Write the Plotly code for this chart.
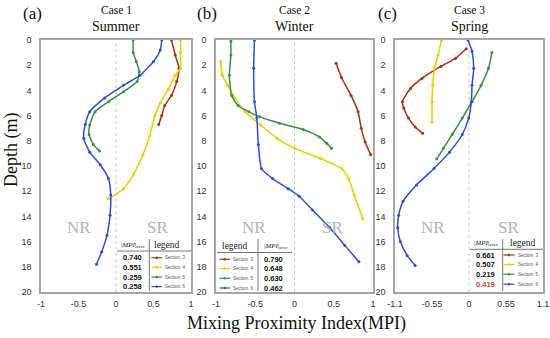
import plotly.graph_objects as go

# ---------------- data ----------------
sections = ["Section. 3", "Section. 4", "Section. 5", "Section. 6"]
colors = ["#A0350F", "#E3D000", "#3A9040", "#2E4FD0"]

# Case 1 Summer
a3_depth = [0, 1.2, 2.25, 3.3, 4.4, 5.2, 6.0, 6.7]
a3_mpi = [0.74, 0.79, 0.84, 0.81, 0.74, 0.65, 0.61, 0.57]
a4_depth = [0, 1.0, 2.25, 2.8, 3.9, 5.0, 6.0, 7.6, 9.1, 10.7, 11.8, 12.6]
a4_mpi = [0.86, 0.86, 0.86, 0.79, 0.70, 0.59, 0.52, 0.45, 0.36, 0.23, 0.10, -0.10]
a5_depth = [0, 1.0, 1.7, 2.5, 3.3, 4.1, 4.9, 5.7, 6.75, 7.5, 8.3, 8.8]
a5_mpi = [0.23, 0.23, 0.27, 0.31, 0.28, 0.10, -0.10, -0.28, -0.35, -0.36, -0.30, -0.22]
a6_depth = [0, 0.8, 1.7, 2.8, 3.6, 4.6, 5.7, 6.7, 7.8, 8.9, 9.9, 11.0, 12.3, 13.9, 15.5, 16.8, 17.8]
a6_mpi = [0.61, 0.59, 0.50, 0.32, 0.10, -0.15, -0.35, -0.41, -0.43, -0.35, -0.21, -0.10, -0.07, -0.08, -0.12, -0.19, -0.26]

# Case 2 Winter
b3_depth = [1.85, 3.0, 4.4, 5.7, 7.0, 8.1, 9.1]
b3_mpi = [0.53, 0.60, 0.72, 0.81, 0.85, 0.90, 0.97]
b4_depth = [1.7, 2.8, 3.6, 4.6, 5.7, 6.75, 7.8, 8.6, 9.4, 10.2, 11.0, 12.3, 14.2]
b4_mpi = [-0.94, -0.92, -0.85, -0.76, -0.63, -0.43, -0.22, 0.0, 0.33, 0.60, 0.69, 0.76, 0.87]
b5_depth = [0.1, 1.2, 2.8, 4.4, 5.2, 5.7, 6.1, 6.6, 7.1, 7.7, 8.2, 8.6]
b5_mpi = [-0.81, -0.81, -0.83, -0.80, -0.72, -0.58, -0.44, -0.19, 0.11, 0.32, 0.41, 0.47]
b6_depth = [0, 2.25, 4.9, 6.2, 8.3, 10.2, 11.0, 11.8, 12.4, 13.5, 14.9, 16.3, 17.6]
b6_mpi = [-0.51, -0.52, -0.51, -0.48, -0.46, -0.42, -0.28, -0.08, 0.06, 0.23, 0.45, 0.64, 0.82]

# Case 3 Spring
c3_depth = [0.7, 1.45, 2.1, 3.05, 3.85, 4.9, 5.4, 6.2, 6.9, 7.4]
c3_mpi = [-0.04, -0.20, -0.42, -0.70, -0.87, -0.99, -0.97, -0.90, -0.80, -0.69]
c4_depth = [0, 1.2, 2.25, 3.6, 4.9, 6.5]
c4_mpi = [-0.41, -0.46, -0.51, -0.54, -0.55, -0.55]
c5_depth = [1.0, 2.25, 3.6, 4.9, 6.2, 7.5, 8.6, 9.45]
c5_mpi = [0.34, 0.29, 0.18, 0.045, -0.10, -0.25, -0.38, -0.48]
c6_depth = [0, 0.9, 2.25, 3.6, 4.9, 6.2, 7.5, 8.9, 10.2, 11.5, 12.8, 13.9, 14.9, 16.0, 17.1, 17.9]
c6_mpi = [-0.015, 0.045, 0.07, 0.045, 0.035, -0.005, -0.10, -0.29, -0.52, -0.78, -0.98, -1.045, -1.06, -1.02, -0.92, -0.80]

mpi_aver_a = ["0.740", "0.551", "0.259", "0.258"]
mpi_aver_b = ["0.790", "0.648", "0.630", "0.462"]
mpi_aver_c = ["0.661", "0.507", "0.219", "0.419"]

panel_labels = ["(a)", "(b)", "(c)"]
case_names = ["Case 1", "Case 2", "Case 3"]
season_names = ["Summer", "Winter", "Spring"]

xtick_vals_ab = [-1, -0.5, 0, 0.5, 1]
xtick_text_ab = ["-1", "-0.5", "0", "0.5", "1"]
xtick_vals_c = [-1.1, -0.55, 0, 0.55, 1.1]
xtick_text_c = ["-1.1", "-0.55", "0", "0.55", "1.1"]
ytick_vals = [0, 2, 4, 6, 8, 10, 12, 14, 16, 18, 20]

# ---------------- layout helpers ----------------
W, H = 550, 338
SERIF = "Liberation Serif, Times New Roman, serif"
SANS = "Liberation Sans, Arial, sans-serif"


def fx(p):
    return p / W


def fy(p):
    return 1 - p / H


def note(text, x, y, size, family=SERIF, color="#111", xanchor="center", **kw):
    return dict(text=text, x=fx(x), y=fy(y), xref="paper", yref="paper", showarrow=False,
                xanchor=xanchor, yanchor="middle", font=dict(family=family, size=size, color=color), **kw)


panels = [
    dict(dom=(41, 191), rng=[-1, 1], tv=xtick_vals_ab, tt=xtick_text_ab,
         series=[(a3_mpi, a3_depth), (a4_mpi, a4_depth), (a5_mpi, a5_depth), (a6_mpi, a6_depth)],
         nr=-0.5, sr=0.55, aver=mpi_aver_a),
    dict(dom=(216, 373), rng=[-1, 1], tv=xtick_vals_ab, tt=xtick_text_ab,
         series=[(b3_mpi, b3_depth), (b4_mpi, b4_depth), (b5_mpi, b5_depth), (b6_mpi, b6_depth)],
         nr=-0.52, sr=0.48, aver=mpi_aver_b),
    dict(dom=(395, 543), rng=[-1.1, 1.1], tv=xtick_vals_c, tt=xtick_text_c,
         series=[(c3_mpi, c3_depth), (c4_mpi, c4_depth), (c5_mpi, c5_depth), (c6_mpi, c6_depth)],
         nr=-0.53, sr=0.58, aver=mpi_aver_c),
]

Y_TOP, Y_BOT = 40, 292

fig = go.Figure()
shapes = []
annotations = []

for i, p in enumerate(panels):
    sfx = "" if i == 0 else str(i + 1)
    xa, ya = "x" + sfx, "y" + sfx
    for k, (xs, ys) in enumerate(p["series"]):
        fig.add_trace(go.Scatter(
            x=xs, y=ys, xaxis=xa, yaxis=ya, mode="lines+markers",
            line=dict(color=colors[k], width=1.5, shape="spline", smoothing=0.6),
            marker=dict(color=colors[k], size=3),
            name=sections[k], showlegend=False, hoverinfo="skip"))
    axis_common = dict(showgrid=False, zeroline=False, showline=True, mirror=True,
                       linecolor="#A6A6A6", linewidth=1.5, ticks="", automargin=False,
                       tickfont=dict(family=SANS, size=9, color="#333333"))
    fig.layout["xaxis" + sfx] = dict(
        domain=[fx(p["dom"][0]), fx(p["dom"][1])], range=p["rng"], anchor=ya,
        tickmode="array", tickvals=p["tv"], ticktext=p["tt"], ticklabelstandoff=2,
        **axis_common)
    fig.layout["yaxis" + sfx] = dict(
        domain=[fy(Y_BOT), fy(Y_TOP)], range=[20, 0], anchor=xa,
        tickmode="array", tickvals=ytick_vals, ticklabelstandoff=6, **axis_common)
    # dotted zero line
    shapes.append(dict(type="line", xref=xa, yref=ya + " domain", x0=0, x1=0, y0=0, y1=1,
                       line=dict(color="#C8C8C8", width=1, dash="dot"), layer="below"))
    # NR / SR labels
    for txt, xv in (("NR", p["nr"]), ("SR", p["sr"])):
        annotations.append(dict(text=txt, x=xv, y=14.9, xref=xa, yref=ya, showarrow=False,
                                xanchor="center", yanchor="middle",
                                font=dict(family=SERIF, size=17, color="#B4B4B4")))
    # titles
    cx = (p["dom"][0] + p["dom"][1]) / 2
    annotations.append(note(case_names[i], cx, 10, 11.5))
    annotations.append(note(season_names[i], cx, 26.5, 14))

# panel letters
for lbl, xc in zip(panel_labels, [32, 207, 387]):
    annotations.append(note(lbl, xc, 13.5, 17))

# axis titles
annotations.append(note("Depth (m)", 11, 150, 18, textangle=-90))
annotations.append(note("Mixing Proximity Index(MPI)", 296, 323, 18))

# legend / value tables (pixel geometry)
tables = [
    dict(left=117, right=191, div=149.3, head=245, hline=251, rows=[257.7, 267.2, 277.0, 286.6],
         valc=132, mpih=132.5, legh=166.5, l0=151.5, l1=162, t0=163),
    dict(left=217, right=292, div=258, head=246, hline=252.5, rows=[259.3, 268.5, 278.3, 288.0],
         valc=273, mpih=276, legh=235, l0=219.5, l1=230, t0=231),
    dict(left=470, right=543, div=502.7, head=243.3, hline=249.3, rows=[255, 264.5, 274.3, 284.2],
         valc=485, mpih=486, legh=522.5, l0=503.5, l1=514.5, t0=515.5),
]
for i, t in enumerate(tables):
    aver = panels[i]["aver"]
    shapes.append(dict(type="line", xref="paper", yref="paper", x0=fx(t["left"]), x1=fx(t["right"]),
                       y0=fy(t["hline"]), y1=fy(t["hline"]), line=dict(color="#555", width=0.8)))
    shapes.append(dict(type="line", xref="paper", yref="paper", x0=fx(t["div"]), x1=fx(t["div"]),
                       y0=fy(239), y1=fy(291), line=dict(color="#555", width=0.8)))
    annotations.append(note("|<i>MPI</i>|<sub>aver</sub>", t["mpih"], t["head"], 7, color="#222"))
    annotations.append(note("legend", t["legh"], t["head"], 9.5, color="#222"))
    for k in range(4):
        yv = t["rows"][k]
        vcol = "#D04030" if (i == 2 and k == 3) else "#111"
        annotations.append(note("<b>" + aver[k] + "</b>", t["valc"], yv, 7.5, family=SANS, color=vcol))
        shapes.append(dict(type="line", xref="paper", yref="paper", x0=fx(t["l0"]), x1=fx(t["l1"]),
                           y0=fy(yv), y1=fy(yv), line=dict(color=colors[k], width=1.2)))
        mx = (t["l0"] + t["l1"]) / 2
        shapes.append(dict(type="circle", xref="paper", yref="paper",
                           x0=fx(mx - 1.2), x1=fx(mx + 1.2), y0=fy(yv - 1.2), y1=fy(yv + 1.2),
                           fillcolor=colors[k], line=dict(width=0)))
        annotations.append(note(sections[k], t["t0"], yv, 4.5, family=SANS, color="#555",
                                xanchor="left"))

fig.update_layout(width=W, height=H, margin=dict(l=0, r=0, t=0, b=0, autoexpand=False),
                  paper_bgcolor="white", plot_bgcolor="white",
                  shapes=shapes, annotations=annotations, showlegend=False)

fig.write_html("out.html", config={"displayModeBar": False},
               post_script="document.body.style.margin='0';document.body.style.overflow='hidden';")
